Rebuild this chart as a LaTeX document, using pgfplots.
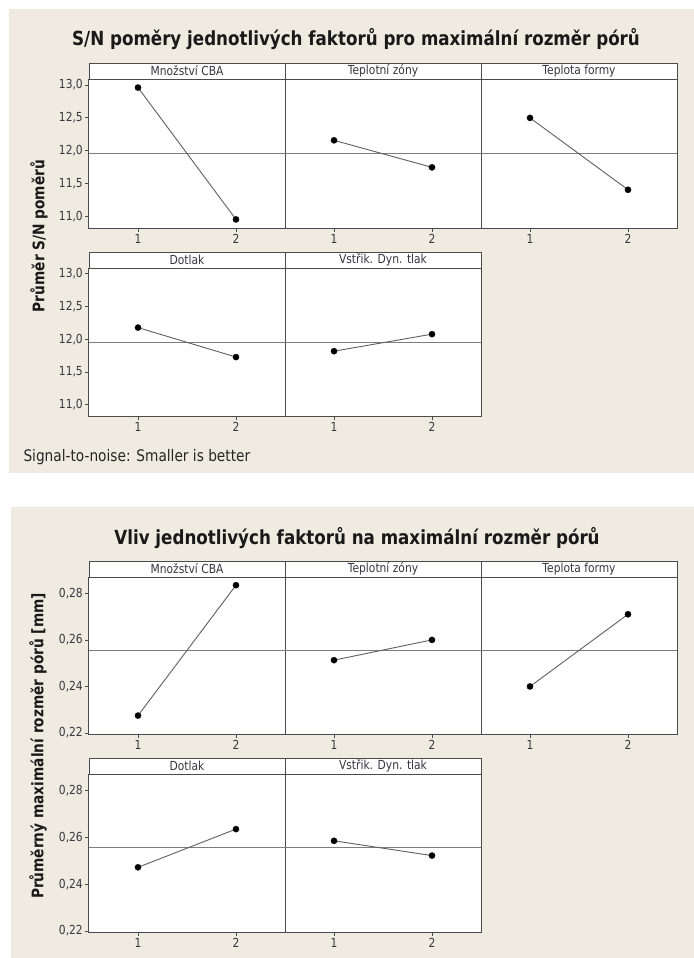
\documentclass[border=0pt]{standalone}
\usepackage{fontspec}
\setmainfont{DejaVu Sans}[FakeStretch=0.86]
\usepackage{pgfplots}
\pgfplotsset{compat=1.18}
\definecolor{beige}{RGB}{239,235,225}
\definecolor{frame}{RGB}{75,75,75}
\definecolor{txt}{RGB}{55,55,65}
\definecolor{lin}{RGB}{95,95,95}
\definecolor{meanc}{RGB}{125,125,125}
\pgfplotsset{
  panel/.style={
    scale only axis, width=196bp, anchor=north west,
    xmin=0.5, xmax=2.5, xtick={1,2}, xticklabels={1,2},
    axis line style={frame, line width=1bp},
    tick style={frame, line width=0.8bp},
    tick align=outside, tick pos=left, major tick length=4bp,
    ticklabel style={font=\fontsize{12.5}{14}\selectfont, text=txt},
    yticklabel style={/pgf/number format/assume math mode=true,
      /pgf/number format/fixed, /pgf/number format/fixed zerofill,
      /pgf/number format/use comma, inner sep=2bp},
    xticklabel style={inner sep=2.5bp},
    axis background/.style={fill=white},
  },
  sn/.style={panel, ymin=10.83, ymax=13.09, ytick={11,11.5,12,12.5,13},
    yticklabel style={/pgf/number format/precision=1}},
  mm/.style={panel, ymin=0.2196, ymax=0.2870, ytick={0.22,0.24,0.26,0.28},
    yticklabel style={/pgf/number format/precision=2}},
  noy/.style={ytick=\empty},
  dataline/.style={lin, line width=0.9bp, mark=*, mark size=3.1bp, mark options={black, fill=black, line width=0.3bp}},
  meanline/.style={meanc, line width=0.9bp},
}
\newcommand{\strip}[3]{%
  \draw[frame, line width=1bp, fill=white] (#1bp,-#2bp) rectangle ({#1bp+196bp},{-#2bp-16bp});
  \node[font=\fontsize{12.5}{14}\selectfont, text=txt, inner sep=0pt] at ({#1bp+98bp},{-#2bp-8bp}) {#3};}
\begin{document}
\begin{tikzpicture}
\fill[white] (0,0) rectangle (694bp,-958bp);
\fill[beige] (9bp,-9bp) rectangle (694bp,-473bp);
\fill[beige] (11bp,-507bp) rectangle (694bp,-958bp);

% ===== top chart =====
\node[font=\bfseries\fontsize{19.5}{22}\selectfont, text=black!90] at (356bp,-39bp) {S/N poměry jednotlivých faktorů pro maximální rozměr pórů};
\node[rotate=90, font=\bfseries\fontsize{16}{18}\selectfont, text=black!90] at (39bp,-236bp) {Průměr S/N poměrů};
\node[anchor=west, font=\fontsize{16}{18}\selectfont, text=black!85] at (20bp,-457bp) {Signal-to-noise: Smaller is better};

\begin{axis}[sn, height=149bp, at={(89bp,-79bp)}]
\addplot[meanline] coordinates {(0.5,11.955) (2.5,11.955)};
\addplot[dataline] coordinates {(1,12.96) (2,10.96)};
\end{axis}
\begin{axis}[sn, noy, height=149bp, at={(285bp,-79bp)}]
\addplot[meanline] coordinates {(0.5,11.955) (2.5,11.955)};
\addplot[dataline] coordinates {(1,12.16) (2,11.75)};
\end{axis}
\begin{axis}[sn, noy, height=149bp, at={(481bp,-79bp)}]
\addplot[meanline] coordinates {(0.5,11.955) (2.5,11.955)};
\addplot[dataline] coordinates {(1,12.50) (2,11.41)};
\end{axis}
\begin{axis}[sn, height=148bp, at={(89bp,-268bp)}]
\addplot[meanline] coordinates {(0.5,11.955) (2.5,11.955)};
\addplot[dataline] coordinates {(1,12.18) (2,11.73)};
\end{axis}
\begin{axis}[sn, noy, height=148bp, at={(285bp,-268bp)}]
\addplot[meanline] coordinates {(0.5,11.955) (2.5,11.955)};
\addplot[dataline] coordinates {(1,11.82) (2,12.08)};
\end{axis}
\strip{89}{63}{Množství CBA}
\strip{285}{63}{Teplotní zóny}
\strip{481}{63}{Teplota formy}
\strip{89}{252}{Dotlak}
\strip{285}{252}{Vstřik. Dyn. tlak}

% ===== bottom chart =====
\node[font=\bfseries\fontsize{19.5}{22}\selectfont, text=black!90] at (357bp,-538bp) {Vliv jednotlivých faktorů na maximální rozměr pórů};
\node[rotate=90, font=\bfseries\fontsize{16}{18}\selectfont, text=black!90] at (38bp,-746bp) {Průměrný maximální rozměr pórů [mm]};

\begin{axis}[mm, height=157bp, at={(89bp,-577bp)}]
\addplot[meanline] coordinates {(0.5,0.2556) (2.5,0.2556)};
\addplot[dataline] coordinates {(1,0.2275) (2,0.2835)};
\end{axis}
\begin{axis}[mm, noy, height=157bp, at={(285bp,-577bp)}]
\addplot[meanline] coordinates {(0.5,0.2556) (2.5,0.2556)};
\addplot[dataline] coordinates {(1,0.2513) (2,0.2600)};
\end{axis}
\begin{axis}[mm, noy, height=157bp, at={(481bp,-577bp)}]
\addplot[meanline] coordinates {(0.5,0.2556) (2.5,0.2556)};
\addplot[dataline] coordinates {(1,0.2400) (2,0.2710)};
\end{axis}
\begin{axis}[mm, height=158bp, at={(89bp,-774bp)}]
\addplot[meanline] coordinates {(0.5,0.2556) (2.5,0.2556)};
\addplot[dataline] coordinates {(1,0.2472) (2,0.2635)};
\end{axis}
\begin{axis}[mm, noy, height=158bp, at={(285bp,-774bp)}]
\addplot[meanline] coordinates {(0.5,0.2556) (2.5,0.2556)};
\addplot[dataline] coordinates {(1,0.2585) (2,0.2522)};
\end{axis}
\strip{89}{561}{Množství CBA}
\strip{285}{561}{Teplotní zóny}
\strip{481}{561}{Teplota formy}
\strip{89}{758}{Dotlak}
\strip{285}{758}{Vstřik. Dyn. tlak}
\end{tikzpicture}
\end{document}
